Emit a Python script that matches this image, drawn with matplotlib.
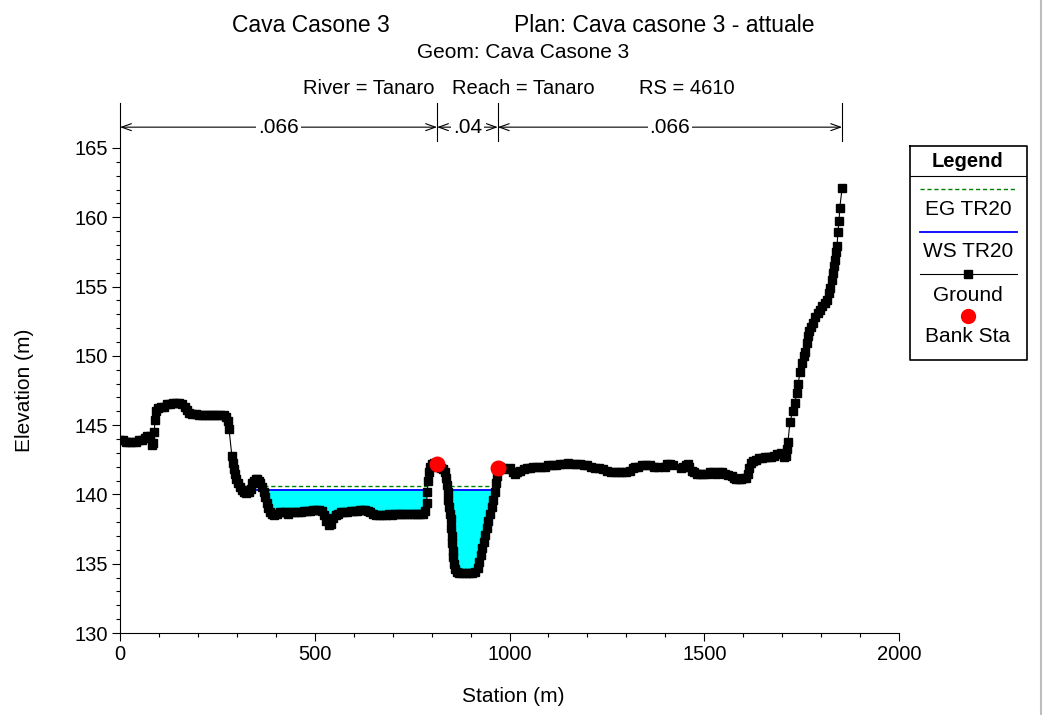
import numpy as np
import matplotlib
matplotlib.use("Agg")
import matplotlib.pyplot as plt
from matplotlib.lines import Line2D
from matplotlib.ticker import MultipleLocator

plt.rcParams['font.family'] = ['Liberation Sans', 'DejaVu Sans']

# ---------------- data ----------------
station = [0, 8, 16, 24, 32, 40, 48, 56, 64, 70, 76, 82, 86, 88, 90, 93, 98, 104, 112, 120,
           128, 136, 144, 152, 160, 166, 172, 178, 186, 194, 202, 210, 218, 226, 234, 242, 250,
           258, 266, 272, 276, 280, 287, 289, 292, 295, 299, 303, 308, 313, 318, 324, 330, 336,
           340, 344, 348, 352, 356, 360, 365, 369, 373, 377, 381, 385, 390, 396, 403, 410, 418,
           426, 432, 440, 448, 456, 464, 472, 480, 488, 496, 504, 512, 518, 524, 530, 536, 542,
           548, 554, 560, 568, 576, 584, 592, 600, 608, 616, 624, 630, 636, 642, 650, 658, 666,
           674, 682, 690, 698, 706, 714, 722, 730, 738, 746, 754, 762, 770, 778, 784, 787, 789,
           791, 793, 796, 800, 806, 812, 818, 824, 830, 834, 837, 839, 841, 843, 845, 847, 849,
           850, 852, 853, 855, 856, 858, 860, 864, 870, 878, 888, 896, 904, 912, 918, 922, 926,
           930, 934, 938, 942, 946, 950, 954, 958, 962, 966, 968, 970, 976, 984, 992, 1000, 1008,
           1014, 1020, 1028, 1036, 1044, 1052, 1060, 1070, 1080, 1090, 1100, 1110, 1120, 1130,
           1140, 1150, 1160, 1170, 1180, 1190, 1200, 1210, 1220, 1230, 1240, 1250, 1260, 1270,
           1280, 1290, 1300, 1310, 1316, 1322, 1330, 1340, 1350, 1360, 1370, 1380, 1398, 1405,
           1412, 1420, 1440, 1446, 1452, 1458, 1462, 1468, 1474, 1482, 1490, 1498, 1506, 1514,
           1522, 1530, 1538, 1546, 1554, 1562, 1570, 1576, 1582, 1588, 1594, 1600, 1606, 1612,
           1616, 1620, 1626, 1632, 1640, 1648, 1656, 1664, 1672, 1680, 1688, 1696, 1702, 1706,
           1710, 1712, 1715, 1720, 1727, 1733, 1737, 1741, 1746, 1751, 1755, 1759, 1763, 1766,
           1770, 1775, 1779, 1785, 1791, 1797, 1803, 1809, 1815, 1819, 1823, 1827, 1830, 1833,
           1836, 1839, 1841, 1843, 1846, 1848, 1854]
elevation = [143.9, 143.9, 143.8, 143.8, 143.8, 143.8, 143.9, 143.9, 144.1, 144.2, 144.2, 143.6,
             143.7, 144.5, 145.4, 146.0, 146.2, 146.3, 146.3, 146.5, 146.5, 146.6, 146.6, 146.6,
             146.5, 146.3, 146.1, 145.9, 145.8, 145.8, 145.7, 145.7, 145.7, 145.7, 145.7, 145.7,
             145.7, 145.7, 145.7, 145.6, 145.3, 144.7, 142.8, 142.3, 141.8, 141.5, 141.1, 140.8,
             140.5, 140.3, 140.2, 140.1, 140.2, 140.4, 140.8, 141.0, 141.1, 141.1, 141.0, 140.8,
             140.5, 140.2, 139.8, 139.4, 139.0, 138.7, 138.6, 138.5, 138.6, 138.7, 138.7, 138.7,
             138.6, 138.7, 138.7, 138.7, 138.7, 138.8, 138.8, 138.8, 138.9, 138.9, 138.9, 138.8,
             138.5, 138.1, 137.8, 137.9, 138.3, 138.5, 138.6, 138.7, 138.7, 138.7, 138.8, 138.8,
             138.8, 138.9, 138.9, 138.9, 138.8, 138.7, 138.6, 138.5, 138.5, 138.5, 138.5, 138.6,
             138.5, 138.6, 138.6, 138.6, 138.6, 138.6, 138.6, 138.6, 138.6, 138.6, 138.6, 138.8,
             139.4, 140.2, 141.0, 141.6, 142.0, 142.2, 142.3, 142.2, 142.0, 141.9, 141.8, 141.6,
             141.2, 140.7, 140.2, 139.6, 139.1, 138.6, 138.2, 137.6, 137.0, 136.5, 135.9, 135.5,
             135.0, 134.6, 134.4, 134.3, 134.3, 134.3, 134.3, 134.3, 134.4, 134.7, 135.1, 135.6,
             136.1, 136.6, 137.1, 137.6, 138.1, 138.6, 139.1, 139.6, 140.2, 140.8, 141.3, 141.9,
             142.0, 141.9, 141.8, 141.9, 141.6, 141.5, 141.6, 141.7, 141.8, 141.9, 141.9, 142.0,
             142.0, 142.0, 142.0, 142.1, 142.1, 142.1, 142.2, 142.2, 142.3, 142.2, 142.2, 142.2,
             142.1, 142.1, 142.0, 141.9, 141.9, 141.8, 141.7, 141.6, 141.6, 141.6, 141.6, 141.6,
             141.7, 141.9, 142.0, 142.0, 142.1, 142.1, 142.1, 142.0, 142.0, 142.0, 142.2, 142.2,
             142.1, 141.9, 142.0, 142.1, 142.2, 142.0, 141.7, 141.6, 141.5, 141.5, 141.5, 141.5,
             141.6, 141.6, 141.5, 141.6, 141.6, 141.5, 141.4, 141.3, 141.2, 141.1, 141.1, 141.1,
             141.2, 141.2, 141.5, 141.9, 142.3, 142.4, 142.5, 142.6, 142.6, 142.7, 142.7, 142.7,
             142.8, 142.9, 143.0, 142.9, 142.7, 142.8, 143.3, 143.8, 145.2, 146.0, 146.6, 147.3,
             148.0, 148.8, 149.5, 150.0, 150.3, 150.9, 151.4, 151.8, 152.1, 152.4, 152.8, 153.1,
             153.3, 153.6, 153.8, 154.0, 154.5, 154.9, 155.5, 156.0, 156.5, 156.9, 157.5, 157.9,
             158.9, 159.7, 160.7, 162.1]

bank_station = [814, 970]
bank_elev = [142.2, 141.9]

ws_elev = 140.35          # WS TR20
eg_elev = 140.6           # EG TR20
wet_extents = [(316, 790), (846, 962)]

manning_breaks = [0, 814, 970, 1854]
manning_n = ['.066', '.04', '.066']

x_ticks = [0, 500, 1000, 1500, 2000]
y_ticks = [130, 135, 140, 145, 150, 155, 160, 165]

# ---------------- figure ----------------
W, H = 1046, 715
fig = plt.figure(figsize=(W / 100, H / 100), dpi=100)
L, R, B, T = 120, 899, 633, 142.4
ax = fig.add_axes([L / W, 1 - B / H, (R - L) / W, (B - T) / H])

st = np.array(station, dtype=float)
el = np.array(elevation, dtype=float)

# water fill
for a, b in wet_extents:
    m = (st >= a - 5) & (st <= b + 5)
    ax.fill_between(st[m], el[m], ws_elev, where=el[m] < ws_elev, interpolate=True,
                    color='#00FFFF', lw=0, zorder=1)
    ax.plot([a, b], [ws_elev, ws_elev], color='#0000FF', lw=1.3, zorder=2)
    ax.plot([a, b], [eg_elev, eg_elev], color='#008000', lw=1.0, ls=(0, (3, 2)), zorder=2)

ax.plot(st, el, color='black', lw=0.8, marker='s', ms=6.3, mec='black', mfc='black', zorder=3)
ax.plot(bank_station, bank_elev, 'o', color='#FF0000', ms=10.5, mec='#FF0000', zorder=4)

ax.set_xlim(0, 2000)
ax.set_ylim(130, 165.4)
ax.set_xticks(x_ticks)
ax.set_yticks(y_ticks)
ax.xaxis.set_minor_locator(MultipleLocator(100))
ax.yaxis.set_minor_locator(MultipleLocator(1))
ax.tick_params(which='major', direction='out', length=6, width=0.8, labelsize=14.5, pad=3)
ax.tick_params(which='minor', direction='out', length=3, width=0.8)
for s in ['top', 'right']:
    ax.spines[s].set_visible(False)
for s in ['left', 'bottom']:
    ax.spines[s].set_linewidth(0.8)

# Manning's n annotation
ytop, ybot, yarr = 168.25, 165.5, 166.5
for xb in manning_breaks:
    ax.plot([xb, xb], [ybot, ytop], color='black', lw=0.8, clip_on=False)
for i, n in enumerate(manning_n):
    a, b = manning_breaks[i], manning_breaks[i + 1]
    ax.annotate('', xy=(a, yarr), xytext=(b, yarr), annotation_clip=False,
                arrowprops=dict(arrowstyle='<->,head_length=0.7,head_width=0.25',
                                lw=0.8, color='black', shrinkA=0, shrinkB=0))
    ax.text((a + b) / 2, yarr, n, ha='center', va='center', fontsize=15, clip_on=False,
            bbox=dict(facecolor='white', edgecolor='none', pad=1.5))

# titles
fig.text(232 / W, 1 - 25 / H, 'Cava Casone 3', ha='left', va='center', fontsize=16.5)
fig.text(815 / W, 1 - 25 / H, 'Plan: Cava casone 3 - attuale', ha='right', va='center', fontsize=16.5)
fig.text(523 / W, 1 - 53 / H, 'Geom: Cava Casone 3', ha='center', va='center', fontsize=15)
fig.text(369 / W, 1 - 88 / H, 'River = Tanaro', ha='center', va='center', fontsize=14.5)
fig.text(523 / W, 1 - 88 / H, 'Reach = Tanaro', ha='center', va='center', fontsize=14.5)
fig.text(687 / W, 1 - 88 / H, 'RS = 4610', ha='center', va='center', fontsize=14.5)

fig.text(513 / W, 1 - 697 / H, 'Station (m)', ha='center', va='center', fontsize=15)
fig.text(25 / W, 1 - 390 / H, 'Elevation (m)', ha='center', va='center', rotation=90, fontsize=15)

# legend box
lx0, lx1, ly0, ly1 = 910, 1027, 146, 360
lax = fig.add_axes([lx0 / W, 1 - ly1 / H, (lx1 - lx0) / W, (ly1 - ly0) / H])
lax.set_xlim(lx0, lx1)
lax.set_ylim(ly1, ly0)
lax.axis('off')
lax.plot([lx0, lx1, lx1, lx0, lx0], [ly0, ly0, ly1, ly1, ly0], color='black', lw=1.2, clip_on=False)
lax.plot([lx0, lx1], [176, 176], color='black', lw=0.8)
lax.text(968, 161, 'Legend', ha='center', va='center', fontsize=14.5, fontweight='bold')
lax.plot([920, 1017], [189, 189], color='#008000', lw=1.0, ls=(0, (3, 2)))
lax.text(968, 209, 'EG TR20', ha='center', va='center', fontsize=15)
lax.plot([920, 1017], [232, 232], color='#0000FF', lw=1.3)
lax.text(968, 251, 'WS TR20', ha='center', va='center', fontsize=15)
lax.plot([920, 1017], [274, 274], color='black', lw=0.8)
lax.plot([968], [274], 's', color='black', ms=5.5)
lax.text(968, 295, 'Ground', ha='center', va='center', fontsize=15)
lax.plot([968], [316], 'o', color='#FF0000', ms=10)
lax.text(968, 336, 'Bank Sta', ha='center', va='center', fontsize=15)

# right window border
fig.add_artist(Line2D([1041 / W, 1041 / W], [0, 1], color='#bdbdbd', lw=1.5))

fig.savefig('out.png', dpi=100)
